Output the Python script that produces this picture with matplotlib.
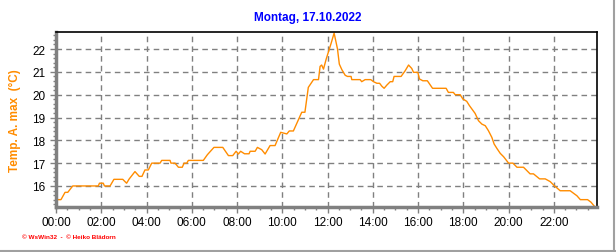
import matplotlib
matplotlib.use('Agg')
from matplotlib import pyplot as plt
from matplotlib.ticker import MultipleLocator, FuncFormatter
from matplotlib.lines import Line2D

# Messwerte (Stunden seit Mitternacht, Temperatur in °C)
hours = [0.00, 0.03, 0.22, 0.40, 0.52, 0.74, 1.87, 1.92, 2.09, 2.14, 2.39, 2.56, 2.95,
         3.12, 3.23, 3.49, 3.68, 3.80, 3.93, 4.08, 4.23, 4.60, 4.67, 5.04, 5.08, 5.26,
         5.41, 5.58, 5.66, 5.78, 5.85, 6.51, 6.69, 6.98, 7.37, 7.62, 7.81, 7.96, 8.06,
         8.16, 8.33, 8.53, 8.58, 8.80, 8.90, 9.09, 9.24, 9.46, 9.68, 9.93, 10.20, 10.31,
         10.49, 10.86, 11.00, 11.15, 11.38, 11.60, 11.67, 11.74, 11.82, 11.94, 12.16,
         12.29, 12.44, 12.52, 12.63, 12.78, 12.88, 13.04, 13.07, 13.44, 13.51, 13.66,
         13.91, 14.03, 14.18, 14.30, 14.40, 14.50, 14.62, 14.77, 14.88, 14.94, 15.25,
         15.43, 15.58, 15.72, 15.80, 15.99, 16.06, 16.21, 16.41, 16.56, 16.64, 17.24,
         17.34, 17.56, 17.64, 17.86, 17.98, 18.15, 18.27, 18.38, 18.52, 18.67, 18.82,
         18.97, 19.11, 19.26, 19.36, 19.48, 19.63, 19.78, 20.00, 20.19, 20.37, 20.66,
         20.95, 21.10, 21.37, 21.62, 21.84, 21.99, 22.28, 22.72, 23.02, 23.17, 23.49,
         23.64, 23.79]
temps = [15.33, 15.40, 15.40, 15.72, 15.72, 16.00, 16.00, 16.12, 16.12, 16.00, 16.00, 16.29, 16.29,
         16.12, 16.30, 16.63, 16.42, 16.42, 16.70, 16.70, 17.00, 17.00, 17.12, 17.12, 17.00, 17.00,
         16.82, 16.82, 17.00, 17.00, 17.12, 17.12, 17.37, 17.69, 17.69, 17.33, 17.33, 17.52, 17.40,
         17.52, 17.41, 17.41, 17.52, 17.52, 17.69, 17.59, 17.40, 17.77, 17.77, 18.35, 18.28, 18.41,
         18.41, 19.23, 19.23, 20.32, 20.66, 20.66, 21.24, 21.30, 21.12, 21.56, 22.26,
         22.70, 22.00, 21.34, 21.10, 20.85, 20.80, 20.80, 20.66, 20.66, 20.57, 20.66,
         20.66, 20.57, 20.50, 20.50, 20.37, 20.28, 20.42, 20.57, 20.57, 20.80, 20.80,
         21.05, 21.30, 21.15, 20.98, 20.98, 20.69, 20.61, 20.61, 20.39, 20.28, 20.28,
         20.10, 20.10, 20.00, 20.00, 19.81, 19.71, 19.52, 19.37, 19.18, 18.86, 18.71,
         18.64, 18.42, 18.13, 17.84, 17.65, 17.43, 17.28, 17.00, 17.00, 16.82, 16.82,
         16.53, 16.53, 16.31, 16.31, 16.19, 16.04, 15.79, 15.79, 15.57, 15.40, 15.40,
         15.29, 15.11]

title = 'Montag, 17.10.2022'
ylabel = 'Temp. A. max  (°C)'
footer = '\u00a9 WsWin32  -  \u00a9 Heiko Blädorn'

plt.rcParams['font.family'] = ['Liberation Sans', 'DejaVu Sans']

fig = plt.figure(figsize=(6.16, 2.53), dpi=100)
ax = fig.add_axes([0.0909, 0.179, 0.878, 0.689])

ax.plot(hours, temps, color='#ff8c00', linewidth=1.0)

ax.set_xlim(0, 23.9)
ax.set_ylim(15.09, 22.73)

ax.xaxis.set_major_locator(MultipleLocator(2))
ax.xaxis.set_minor_locator(MultipleLocator(0.5))
ax.xaxis.set_major_formatter(FuncFormatter(lambda v, p: '%02d:00' % int(round(v))))
ax.yaxis.set_major_locator(MultipleLocator(1))
ax.yaxis.set_minor_locator(MultipleLocator(0.2))

ax.grid(True, which='major', color='#808080', linestyle=(0, (4, 3)), linewidth=1.0)
ax.tick_params(which='major', labelsize=8.5, length=4, width=1, color='#808080')
ax.tick_params(which='minor', length=2, width=1, color='#808080')
ax.tick_params(axis='x', pad=3)

for side in ['left', 'bottom']:
    ax.spines[side].set_color('#808080')
    ax.spines[side].set_linewidth(2.5)
for side in ['top', 'right']:
    ax.spines[side].set_color('black')
    ax.spines[side].set_linewidth(1.2)

ax.set_ylabel(ylabel, color='#ff8c00', fontweight='bold', fontsize=8.5, labelpad=8)
fig.text(0.5, 0.928, title, color='#0000ff', fontweight='bold', fontsize=8.5,
         ha='center', va='center')
fig.text(0.035, 0.06, footer, color='#ff0000', fontsize=4.6, fontweight='bold',
         ha='left', va='center')

# Rahmen rechts und unten
fig.add_artist(Line2D([0.997, 0.997], [0.0, 1.0], color='#a0a0a0', linewidth=1.5,
                      transform=fig.transFigure))
fig.add_artist(Line2D([0.0, 1.0], [0.003, 0.003], color='#a0a0a0', linewidth=1.5,
                      transform=fig.transFigure))

plt.savefig('out.png', dpi=100)
